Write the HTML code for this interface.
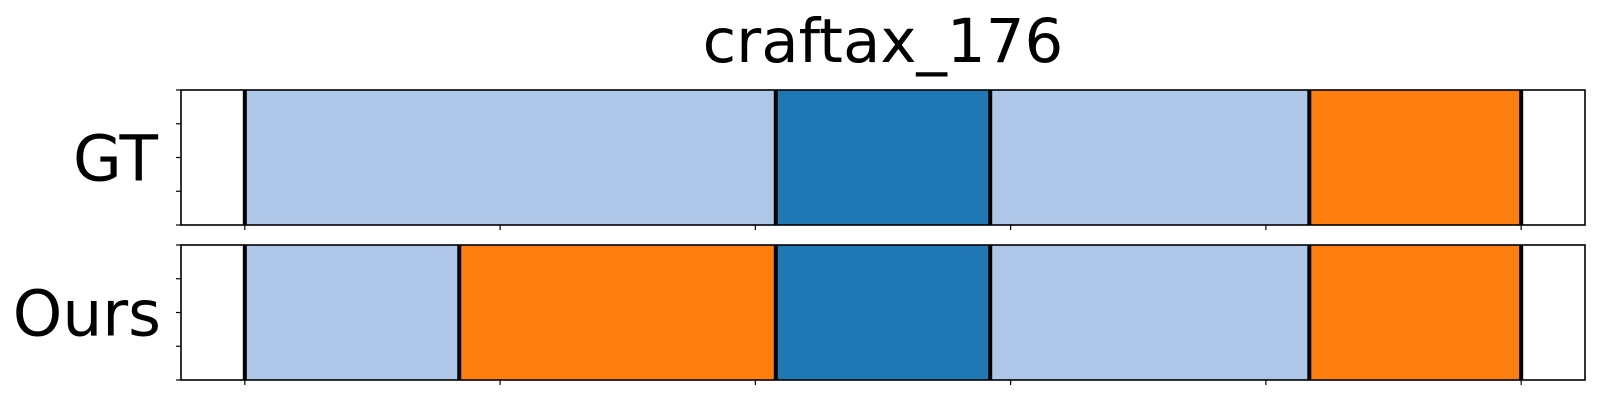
<!DOCTYPE html>
<html><head><meta charset="utf-8"><style>
html,body{margin:0;padding:0;background:#fff;}
svg{display:block;}
text{font-family:"DejaVu Sans","Liberation Sans",sans-serif;fill:#000;}
</style></head><body>
<svg id="chart" width="1600" height="400" viewBox="0 0 1600 400" xmlns="http://www.w3.org/2000/svg">
<text x="883" y="62" font-size="61" text-anchor="middle">craftax_176</text>
<g id="plots"></g>
</svg>
<script>
const rowLabels = ["GT", "Ours"];
const gtBounds = [0, 104, 146, 208.5, 250];
const gtColors = ["#aec7e8", "#1f77b4", "#aec7e8", "#ff7f0e"];
const oursBounds = [0, 42, 104, 146, 208.5, 250];
const oursColors = ["#aec7e8", "#ff7f0e", "#1f77b4", "#aec7e8", "#ff7f0e"];
const xTicks = [0, 50, 100, 150, 200, 250];

const NS = "http://www.w3.org/2000/svg";
const axL = 181, axR = 1585, xMin = -12.5, xMax = 262.5;
function xs(v){ return axL + (v - xMin) / (xMax - xMin) * (axR - axL); }
const panels = [
  {top: 90, bot: 225, bounds: gtBounds, colors: gtColors, label: rowLabels[0], lx: 158},
  {top: 245, bot: 380, bounds: oursBounds, colors: oursColors, label: rowLabels[1], lx: 161}
];
const g = document.getElementById('plots');
function mk(tag, attrs){ const e = document.createElementNS(NS, tag); for (const k in attrs) e.setAttribute(k, attrs[k]); g.appendChild(e); return e; }
panels.forEach((p, pi) => {
  const h = p.bot - p.top;
  for (let i = 0; i < p.colors.length; i++) {
    const r = mk('rect', {x: xs(p.bounds[i]), y: p.top, width: xs(p.bounds[i+1]) - xs(p.bounds[i]), height: h, fill: p.colors[i]});
    
    
  }
  p.bounds.forEach((b, i) => {
    const l = mk('line', {x1: xs(b), x2: xs(b), y1: p.top, y2: p.bot, stroke: '#000', 'stroke-width': 4});
    
    
  });
  const frame = mk('rect', {x: axL, y: p.top, width: axR - axL, height: h, fill: 'none', stroke: '#000', 'stroke-width': 1.6});
  
  
  for (let k = 0; k <= 4; k++) {
    const y = p.top + h * k / 4;
    const t = mk('line', {x1: axL - 5, x2: axL, y1: y, y2: y, stroke: '#000', 'stroke-width': 1.2});
    
    
  }
  xTicks.forEach(v => {
    const t = mk('line', {x1: xs(v), x2: xs(v), y1: p.bot, y2: p.bot + 5, stroke: '#000', 'stroke-width': 1.2});
    
    
  });
  const lab = mk('text', {x: p.lx, y: (p.top + p.bot) / 2 + 23, 'font-size': 63, 'text-anchor': 'end'});
  lab.textContent = p.label;
  
  
});
</script>
</body></html>
